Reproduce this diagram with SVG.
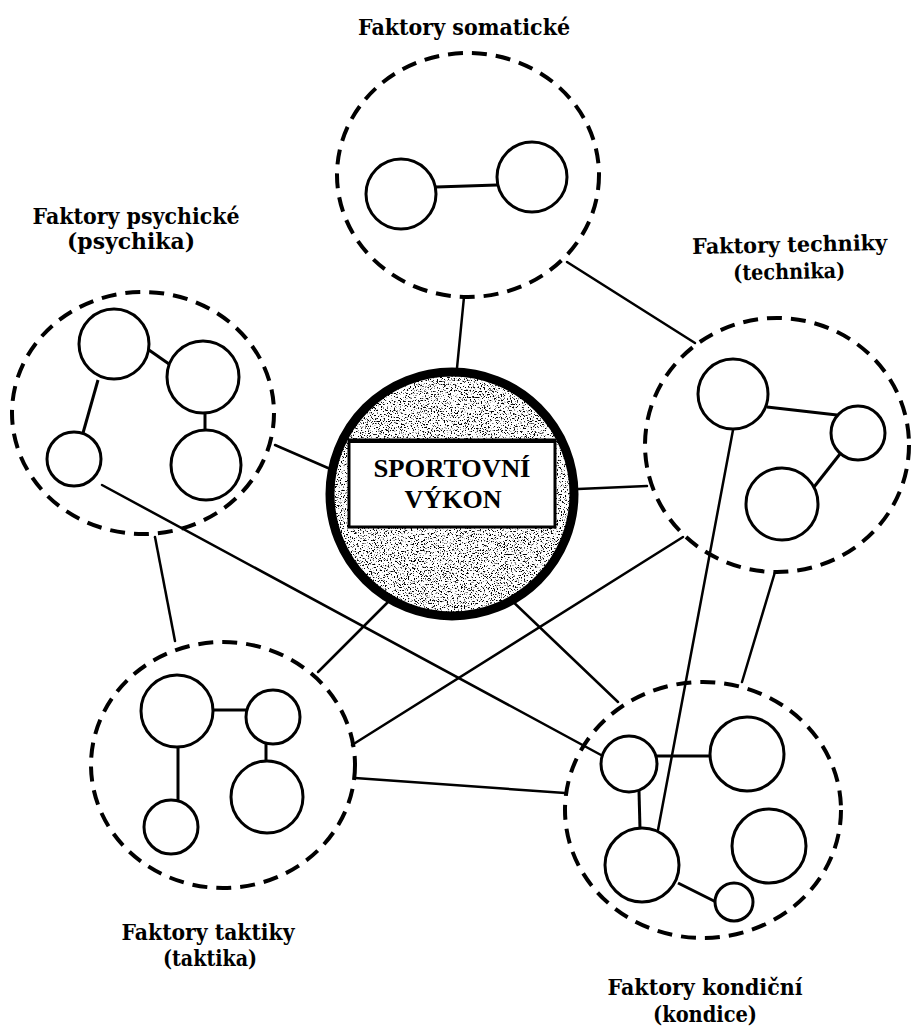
<svg xmlns="http://www.w3.org/2000/svg" width="912" height="1034" viewBox="0 0 912 1034">
<style>
.dash{fill:none;stroke:#000;stroke-width:4;stroke-dasharray:15 9}
.sub{fill:#fff;stroke:#000;stroke-width:3}
.ln{stroke:#000;stroke-width:2.5;fill:none;stroke-linecap:round}
.in{stroke:#000;stroke-width:3;fill:none}
.lbl{font-family:"DejaVu Serif","Liberation Serif",serif;font-weight:bold;font-size:21.5px;fill:#000}
.ctr{font-family:"Liberation Serif","Times New Roman",serif;font-weight:bold;font-size:26px;fill:#000}
</style>
<defs>
<filter id="grain" x="0" y="0" width="1" height="1">
<feTurbulence type="fractalNoise" baseFrequency="0.7" numOctaves="3" seed="7" result="n"/>
<feColorMatrix in="n" type="matrix" values="0 0 0 0 0  0 0 0 0 0  0 0 0 0 0  -9 0 0 0 3.95" result="d"/>
<feComposite in="d" in2="SourceGraphic" operator="in"/>
</filter>
</defs>
<rect width="912" height="1034" fill="#fff"/>

<g id="connectors">
<line class="ln" x1="464" y1="297" x2="457" y2="368"/>
<line class="ln" x1="567" y1="262" x2="695" y2="343"/>
<line class="ln" x1="275" y1="445" x2="328" y2="468"/>
<line class="ln" x1="578" y1="489" x2="647" y2="486"/>
<line class="ln" x1="155" y1="537" x2="175" y2="641"/>
<line class="ln" x1="102" y1="485" x2="601" y2="755"/>
<line class="ln" x1="393" y1="597" x2="318" y2="672"/>
<line class="ln" x1="683" y1="537" x2="352" y2="745"/>
<line class="ln" x1="355" y1="778" x2="565" y2="793"/>
<line class="ln" x1="508" y1="597" x2="618" y2="702"/>
<line class="ln" x1="775" y1="572" x2="742" y2="682"/>
<line class="ln" x1="733" y1="430" x2="658" y2="830"/>
</g>

<g id="somaticke">
<ellipse class="dash" cx="468" cy="175" rx="131" ry="122"/>
<line class="in" x1="436" y1="187" x2="497" y2="185"/>
<circle class="sub" cx="401" cy="194" r="35"/>
<circle class="sub" cx="532" cy="177" r="35"/>
<text class="lbl" x="464" y="35" text-anchor="middle" textLength="212" lengthAdjust="spacingAndGlyphs">Faktory somatické</text>
</g>

<g id="psychicke">
<ellipse class="dash" cx="143" cy="413" rx="131" ry="121"/>
<line class="in" x1="149" y1="350" x2="169" y2="364"/>
<line class="in" x1="98" y1="380" x2="83" y2="433"/>
<line class="in" x1="205" y1="412" x2="205" y2="431"/>
<circle class="sub" cx="114" cy="344" r="35"/>
<circle class="sub" cx="203" cy="377" r="36"/>
<circle class="sub" cx="74" cy="459" r="27"/>
<circle class="sub" cx="206" cy="465" r="35"/>
<text class="lbl" x="136" y="224" text-anchor="middle" textLength="207" lengthAdjust="spacingAndGlyphs">Faktory psychické</text>
<text class="lbl" x="131" y="249" text-anchor="middle" textLength="128" lengthAdjust="spacingAndGlyphs">(psychika)</text>
</g>

<g id="techniky">
<ellipse class="dash" cx="777" cy="445" rx="132" ry="127"/>
<line class="in" x1="767" y1="407" x2="837" y2="415"/>
<line class="in" x1="840" y1="454" x2="814" y2="487"/>
<circle class="sub" cx="733" cy="394" r="35"/>
<circle class="sub" cx="858" cy="433" r="27"/>
<circle class="sub" cx="782" cy="504" r="36"/>
<g transform="rotate(-1.2 790 262)">
<text class="lbl" x="790" y="252" text-anchor="middle" textLength="195" lengthAdjust="spacingAndGlyphs">Faktory techniky</text>
<text class="lbl" x="789" y="279" text-anchor="middle" textLength="112" lengthAdjust="spacingAndGlyphs">(technika)</text>
</g>
</g>

<g id="vykon">
<circle cx="452" cy="494" r="122" fill="#fff"/>
<circle cx="452" cy="494" r="122" fill="#fff" filter="url(#grain)"/>
<circle cx="452" cy="494" r="122" fill="none" stroke="#000" stroke-width="9"/>
<rect x="349" y="440" width="206" height="87" fill="#fff" stroke="#000" stroke-width="3"/>
<line x1="349" y1="441" x2="555" y2="441" stroke="#000" stroke-width="4"/>
<text class="ctr" x="452" y="477" text-anchor="middle" textLength="157" lengthAdjust="spacingAndGlyphs">SPORTOVNÍ</text>
<text class="ctr" x="453" y="508" text-anchor="middle" textLength="97" lengthAdjust="spacingAndGlyphs">VÝKON</text>
</g>

<g id="taktiky">
<ellipse class="dash" cx="223" cy="765" rx="132" ry="123"/>
<line class="in" x1="212" y1="710" x2="247" y2="710"/>
<line class="in" x1="178" y1="746" x2="178" y2="801"/>
<line class="in" x1="266" y1="743" x2="266" y2="762"/>
<circle class="sub" cx="177" cy="711" r="36"/>
<circle class="sub" cx="273" cy="717" r="27"/>
<circle class="sub" cx="267" cy="797" r="36"/>
<circle class="sub" cx="171" cy="827" r="27"/>
<text class="lbl" x="208" y="940" text-anchor="middle" textLength="173" lengthAdjust="spacingAndGlyphs">Faktory taktiky</text>
<text class="lbl" x="210" y="966" text-anchor="middle" textLength="94" lengthAdjust="spacingAndGlyphs">(taktika)</text>
</g>

<g id="kondicni">
<ellipse class="dash" cx="703" cy="810" rx="138" ry="128"/>
<line class="in" x1="656" y1="756" x2="711" y2="756"/>
<line class="in" x1="639" y1="791" x2="640" y2="829"/>
<line class="in" x1="678" y1="883" x2="716" y2="902"/>
<circle class="sub" cx="629" cy="764" r="28"/>
<circle class="sub" cx="747" cy="754" r="37"/>
<circle class="sub" cx="769" cy="846" r="37"/>
<circle class="sub" cx="642" cy="865" r="37"/>
<circle class="sub" cx="734" cy="902" r="19"/>
<text class="lbl" x="705" y="995" text-anchor="middle" textLength="195" lengthAdjust="spacingAndGlyphs">Faktory kondiční</text>
<text class="lbl" x="705" y="1022" text-anchor="middle" textLength="104" lengthAdjust="spacingAndGlyphs">(kondice)</text>
</g>
</svg>
